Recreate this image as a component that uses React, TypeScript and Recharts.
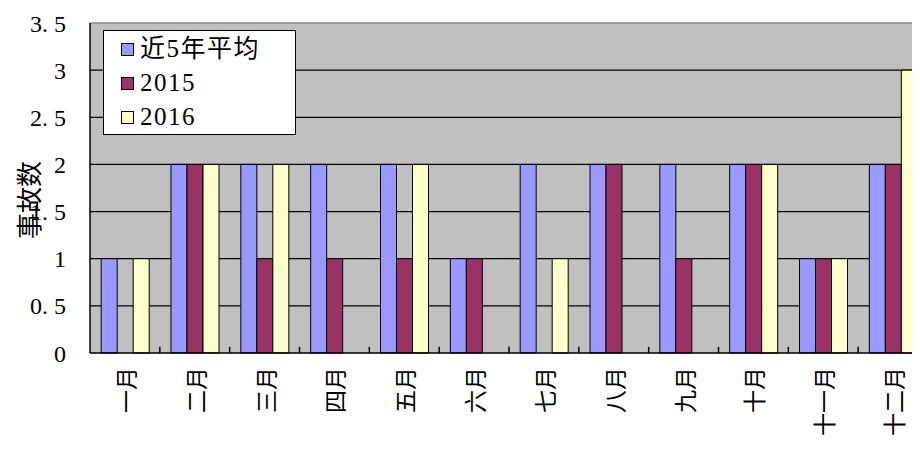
import React from 'react';
import { BarChart, Bar, XAxis, YAxis, CartesianGrid, Legend, ReferenceLine } from 'recharts';

const months = ['一月', '二月', '三月', '四月', '五月', '六月', '七月', '八月', '九月', '十月', '十一月', '十二月'];
const seriesNames = ['近5年平均', '2015', '2016'];
const avg5 = [1, 2, 2, 2, 2, 1, 2, 2, 2, 2, 1, 2];
const y2015 = [0, 2, 1, 1, 1, 1, 0, 2, 1, 2, 1, 2];
const y2016 = [1, 2, 2, 0, 2, 0, 1, 0, 0, 2, 1, 3];
const yTicks = [0, 0.5, 1, 1.5, 2, 2.5, 3, 3.5];
const gridValues = [0.5, 1, 1.5, 2, 2.5, 3];
const tickMarkHeight = 0.065;

const data = months.map((m, i) => ({ month: m, avg: avg5[i], a2015: y2015[i], a2016: y2016[i] }));

const FONT = "'Liberation Serif', 'Noto Sans CJK SC', serif";
const CJK = "'Noto Sans CJK SC', 'Liberation Serif', serif";

const fmtY = (v: number) => String(v).replace('.', '. ');

const XTick = (props: any) => {
  const { x, y, payload } = props;
  const ty = y + 6;
  return (
    <text
      x={x}
      y={ty}
      transform={`rotate(-90, ${x}, ${ty})`}
      textAnchor="end"
      dominantBaseline="central"
      fontSize={23}
      fontFamily={CJK}
      fill="#000"
    >
      {payload.value}
    </text>
  );
};

const YLabel = (props: any) => {
  const vb = props.viewBox || { x: 0, y: 15, width: 82, height: 330 };
  const cx = vb.x + 19;
  const cy = vb.y + vb.height / 2 + 12;
  return (
    <g>
      <rect x={cx - 17} y={cy - 42} width={40} height={84} fill="#fff" />
      <text
        x={cx}
        y={cy}
        transform={`rotate(-90, ${cx}, ${cy})`}
        textAnchor="middle"
        dominantBaseline="central"
        fontSize={26}
        fontFamily={CJK}
        fill="#000"
      >
        事故数
      </text>
    </g>
  );
};

const LegendContent = (props: any) => {
  const payload = [...(props.payload || [])].sort(
    (a: any, b: any) => seriesNames.indexOf(a.value) - seriesNames.indexOf(b.value)
  );
  return (
    <div
      style={{
        width: 193,
        height: 105,
        boxSizing: 'border-box',
        border: '1.5px solid #000',
        background: '#fff',
        paddingTop: 1,
        paddingLeft: 17,
      }}
    >
      {payload.map((p: any) => (
        <div key={p.value} style={{ display: 'flex', alignItems: 'center', height: 34 }}>
          <span
            style={{
              display: 'inline-block',
              width: 13,
              height: 13,
              background: p.color,
              border: '1px solid #000',
              boxSizing: 'border-box',
              marginRight: 6,
            }}
          />
          <span style={{ fontSize: 25, fontFamily: FONT, color: '#000', letterSpacing: 1.5, lineHeight: '34px' }}>{p.value}</span>
        </div>
      ))}
    </div>
  );
};

export default function App() {
  return (
    <div style={{ width: 912, height: 442, overflow: 'hidden', position: 'relative', background: '#fff' }}>
      <BarChart
        width={930}
        height={442}
        data={data}
        margin={{ top: 15, right: 10, bottom: 0, left: 0 }}
        barCategoryGap="16%"
        barGap={0}
        style={{ fontFamily: FONT }}
      >
        <CartesianGrid
          vertical={false}
          horizontalValues={gridValues}
          stroke="#000"
          strokeWidth={1.2}
          fill="#C0C0C0"
          fillOpacity={1}
        />
        <ReferenceLine y={3.5} stroke="#888" strokeWidth={1.5} />
        <XAxis
          dataKey="month"
          interval={0}
          height={97}
          tick={<XTick />}
          tickLine={false}
          tickSize={6}
          tickMargin={2}
          axisLine={{ stroke: '#000', strokeWidth: 1.5 }}
        />
        <YAxis
          width={82}
          domain={[0, 3.5]}
          ticks={yTicks}
          tickFormatter={fmtY}
          interval={0}
          tickLine={false}
          tickSize={6}
          tickMargin={18}
          axisLine={{ stroke: '#000', strokeWidth: 1.5 }}
          tick={{ fontSize: 24, fill: '#000', fontFamily: FONT }}
          label={{ content: <YLabel /> }}
        />
        {months.slice(0, months.length - 1).map((m) => (
          <ReferenceLine
            key={`edge-${m}`}
            segment={[{ x: m, y: 0 }, { x: m, y: tickMarkHeight }]}
            position="end"
            stroke="#000"
            strokeWidth={1.5}
          />
        ))}
        <Legend
          layout="vertical"
          align="center"
          verticalAlign="middle"
          wrapperStyle={{ left: 95, top: 22, width: 193, height: 105 }}
          content={<LegendContent />}
        />
        <Bar dataKey="avg" name="近5年平均" fill="#9999FF" stroke="#000" strokeWidth={1} isAnimationActive={false} />
        <Bar dataKey="a2015" name="2015" fill="#993366" stroke="#000" strokeWidth={1} isAnimationActive={false} />
        <Bar dataKey="a2016" name="2016" fill="#FFFFCC" stroke="#000" strokeWidth={1} isAnimationActive={false} />
      </BarChart>
    </div>
  );
}
